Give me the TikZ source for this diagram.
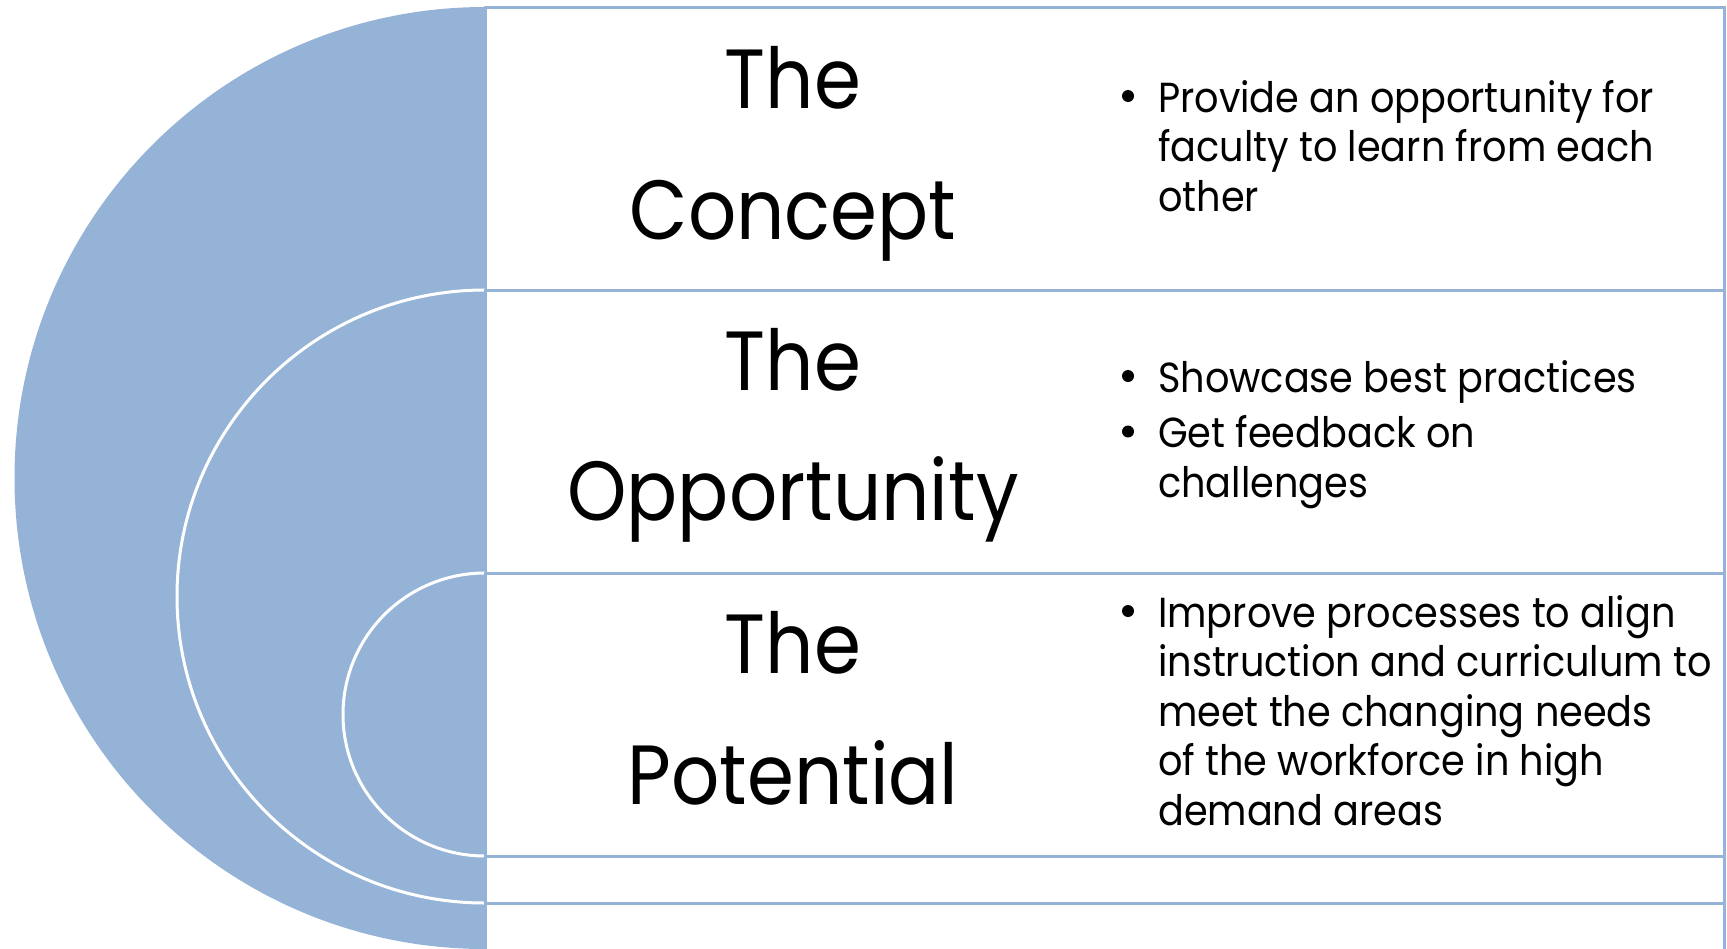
\documentclass[tikz,border=0pt]{standalone}
\usepackage{fontspec}
\newfontfamily\gfont[FakeStretch=0.9]{Poppins}
\newfontfamily\bfont[FakeStretch=0.91]{Poppins}
\newcommand\ttlfnt{\gfont\fontsize{84}{130}\selectfont}
\newcommand\bltfnt{\bfont\fontsize{42}{49.5}\selectfont}
\definecolor{tblue}{HTML}{95B3D7}
\tikzset{
  disc/.style={fill=tblue},
  rim/.style={draw=white, line width=3pt},
  panel/.style={fill=white, draw=tblue, line width=3pt},
  ttl/.style={font=\ttlfnt, inner sep=0pt, anchor=base},
  btxt/.style={font=\bltfnt, inner sep=0pt, anchor=base west},
  bdot/.style={circle, fill=black, inner sep=0pt, minimum size=12pt},
}
\begin{document}
\begin{tikzpicture}[x=1pt, y=-1pt]
\useasboundingbox (0,0) rectangle (1727,948);
\clip (0,0) rectangle (1727,948);
% level 1
\fill[disc] (485,7) arc[start angle=-90, end angle=-270, x radius=470.5, y radius=471] -- cycle;
\draw[panel] (485,7) rectangle (1724,960);
% level 2
\fill[disc] (485,290) arc[start angle=-90, end angle=-270, x radius=308, y radius=306.5] -- cycle;
\draw[rim] (485,290) arc[start angle=-90, end angle=-270, x radius=308, y radius=306.5];
\draw[panel] (485,290) rectangle (1724,903);
% level 3
\fill[disc] (485,573) arc[start angle=-90, end angle=-270, x radius=142, y radius=141.5] -- cycle;
\draw[rim] (485,573) arc[start angle=-90, end angle=-270, x radius=142, y radius=141.5];
\draw[panel] (485,573) rectangle (1724,856);
% titles
\node[ttl] (t1a) at (793,108) {The};
\node[ttl] (t1b) at (793,239) {Concept};
\node[ttl] (t2a) at (793,390.5) {The};
\node[ttl] (t2b) at (793,520.5) {Opportunity};
\node[ttl] (t3a) at (793,673.5) {The};
\node[ttl] (t3b) at (793,804) {Potential};
% bullets row 1
\node[bdot] (d1) at (1128,96) {};
\node[btxt] (b1a) at (1158,112) {Provide an opportunity for};
\node[btxt] (b1b) at (1158,161.5) {faculty to learn from each};
\node[btxt] (b1c) at (1158,211) {other};
% bullets row 2
\node[bdot] (d2) at (1128,376) {};
\node[btxt] (b2a) at (1158,392) {Showcase best practices};
\node[bdot] (d3) at (1128,431.5) {};
\node[btxt] (b2b) at (1158,447.5) {Get feedback on};
\node[btxt] (b2c) at (1158,497) {challenges};
% bullets row 3
\node[bdot] (d4) at (1128,611) {};
\node[btxt] (b3a) at (1158,627) {Improve processes to align};
\node[btxt] (b3b) at (1158,676.5) {instruction and curriculum to};
\node[btxt] (b3c) at (1158,726) {meet the changing needs};
\node[btxt] (b3d) at (1158,775.5) {of the workforce in high};
\node[btxt] (b3e) at (1158,825) {demand areas};
\end{tikzpicture}
\end{document}
